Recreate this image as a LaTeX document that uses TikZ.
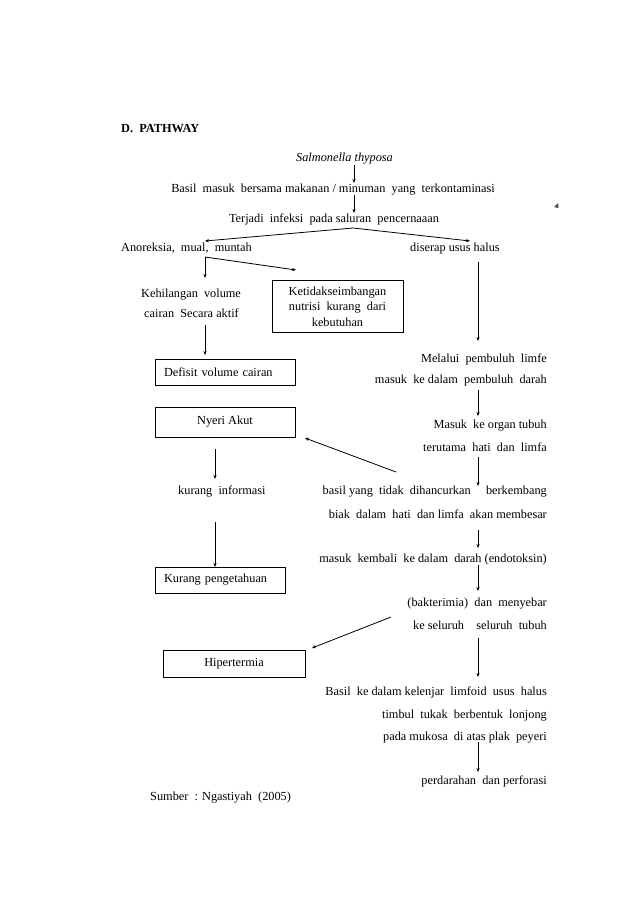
\documentclass[tikz,border=0pt]{standalone}
\usepackage{fontspec}
\setmainfont{Liberation Serif}
\newfontfamily\tms{Liberation Serif}
\usetikzlibrary{arrows.meta}
\begin{document}
\begin{tikzpicture}[x=1pt,y=-1pt,
  txt/.style={inner sep=0pt,font=\tms\fontsize{12.3}{15}\selectfont},
  boxn/.style={draw,line width=0.9pt,inner sep=0pt,font=\tms\fontsize{12.3}{15}\selectfont},
  arr/.style={line width=0.8pt,-{Stealth[length=4pt,width=3.2pt]}}]
\useasboundingbox[fill=white] (0,0) rectangle (638,903);
% texts
\node[txt,anchor=base west,font=\tms\fontsize{12.3}{15}\selectfont\bfseries] (title) at (121,132) {D.\ \ PATHWAY};
\node[txt,anchor=base] (sal) at (344.5,161) {\itshape Salmonella thyposa};
\node[txt,anchor=base] (basil) at (333,192) {Basil\ \ masuk\ \ bersama makanan / minuman\ \ yang\ \ terkontaminasi};
\node[txt,anchor=base] (terj) at (334,222) {Terjadi\ \ infeksi\ \ pada saluran\ \ pencernaaan};
\node[txt,anchor=base west] (anor) at (121,251) {Anoreksia,\ \ mual,\ \ muntah};
\node[txt,anchor=base west] (diserap) at (410,251) {diserap\ usus\ halus};
\node[txt,anchor=base west] (kehil1) at (141,297) {Kehilangan\ \ volume};
\node[txt,anchor=base west] (kehil2) at (144,317) {cairan\ \ Secara aktif};
\node[boxn,minimum width=131pt,minimum height=52pt,align=center,
  font=\tms\fontsize{12.3}{15.5}\selectfont] (ketid) at (337.5,306.5) {Ketidakseimbangan\\nutrisi\ \ kurang\ \ dari\\kebutuhan};
\node[boxn,minimum width=140pt,minimum height=26pt,text width=122pt,inner xsep=9pt,align=left] (defisit) at (225,372) {Defisit\ volume\ cairan};
\node[txt,anchor=base east] (melalui) at (547,362) {Melalui\ \ pembuluh\ \ limfe};
\node[txt,anchor=base east] (masuk1) at (547,383) {masuk\ \ ke dalam\ \ pembuluh\ \ darah};
\node[boxn,minimum width=140pt,minimum height=30pt] (nyeri) at (225,422) {Nyeri Akut};
\node[txt,anchor=base east] (organ) at (547,428) {Masuk\ \ ke organ tubuh};
\node[txt,anchor=base east] (terutama) at (547,451) {terutama\ \ hati\ \ dan\ \ limfa};
\node[txt,anchor=base west] (kurinfo) at (178,494) {kurang\ \ informasi};
\node[txt,anchor=base east] (basilyang) at (547,494) {basil yang\ \ tidak\ \ dihancurkan\ \ \ \ \ berkembang};
\node[txt,anchor=base east] (biak) at (547,518) {biak\ \ dalam\ \ hati\ \ dan limfa\ \ akan membesar};
\node[txt,anchor=base east] (kembali) at (547,562) {masuk\ \ kembali\ \ ke dalam\ \ darah (endotoksin)};
\node[boxn,minimum width=130pt,minimum height=26pt,text width=112pt,inner xsep=9pt,align=left] (kurpeng) at (220,580) {Kurang\ pengetahuan};
\node[txt,anchor=base east] (bakter) at (547,606) {(bakterimia)\ \ dan\ \ menyebar};
\node[txt,anchor=base east] (keseluruh) at (547,629) {ke seluruh\ \ \ \ seluruh\ \ tubuh};
\node[boxn,minimum width=142pt,minimum height=27pt] (hiper) at (234,663.5) {Hipertermia};
\node[txt,anchor=base east] (basilke) at (547,695) {Basil\ \ ke dalam kelenjar\ \ limfoid\ \ usus\ \ halus};
\node[txt,anchor=base east] (timbul) at (547,718) {timbul\ \ tukak\ \ berbentuk\ \ lonjong};
\node[txt,anchor=base east] (pada) at (547,740) {pada mukosa\ \ di atas plak\ \ peyeri};
\node[txt,anchor=base east] (perd) at (547,784) {perdarahan\ \ dan perforasi};
\node[txt,anchor=base west] (sumber) at (150,800) {Sumber\ \ : Ngastiyah\ \ (2005)};
% connector end points
\coordinate (a1s) at (354,165); \coordinate (a1e) at (354,183);
\coordinate (a2s) at (354,195); \coordinate (a2e) at (354,213);
\coordinate (fork) at (353,228);
\coordinate (fl) at (205,241); \coordinate (fr) at (470,241);
\coordinate (ml) at (205,257);
\coordinate (kd) at (205,278); \coordinate (kr) at (296,270);
\coordinate (k2s) at (205,325); \coordinate (k2e) at (205,355);
\coordinate (r1s) at (478,262); \coordinate (r1e) at (478,341);
\coordinate (r2s) at (478,390); \coordinate (r2e) at (478,416);
\coordinate (r3s) at (478,457); \coordinate (r3e) at (478,486);
\coordinate (n1s) at (396,472); \coordinate (n1e) at (305,438);
\coordinate (l1s) at (215,449); \coordinate (l1e) at (215,479);
\coordinate (l2s) at (215,522); \coordinate (l2e) at (215,567);
\coordinate (r4s) at (478,530); \coordinate (r4e) at (478,548);
\coordinate (r5s) at (478,565); \coordinate (r5e) at (478,591);
\coordinate (h1s) at (391,617); \coordinate (h1e) at (312,648);
\coordinate (r6s) at (478,638); \coordinate (r6e) at (478,677);
\coordinate (r7s) at (478,742); \coordinate (r7e) at (478,772);
% connectors
\draw[arr] (a1s) -- (a1e);
\draw[arr] (a2s) -- (a2e);
\draw[arr] (fork) -- (fl);
\draw[arr] (fork) -- (fr);
\draw[arr] (ml) -- (kd);
\draw[arr] (ml) -- (kr);
\draw[arr] (k2s) -- (k2e);
\draw[arr] (r1s) -- (r1e);
\draw[arr] (r2s) -- (r2e);
\draw[arr] (r3s) -- (r3e);
\draw[arr] (n1s) -- (n1e);
\draw[arr] (l1s) -- (l1e);
\draw[arr] (l2s) -- (l2e);
\draw[arr] (r4s) -- (r4e);
\draw[arr] (r5s) -- (r5e);
\draw[arr] (h1s) -- (h1e);
\draw[arr] (r6s) -- (r6e);
\draw[arr] (r7s) -- (r7e);
% stray mark
\fill[black!70] (554,207) -- (558,203) -- (558.5,208) -- cycle;
\end{tikzpicture}
\end{document}
